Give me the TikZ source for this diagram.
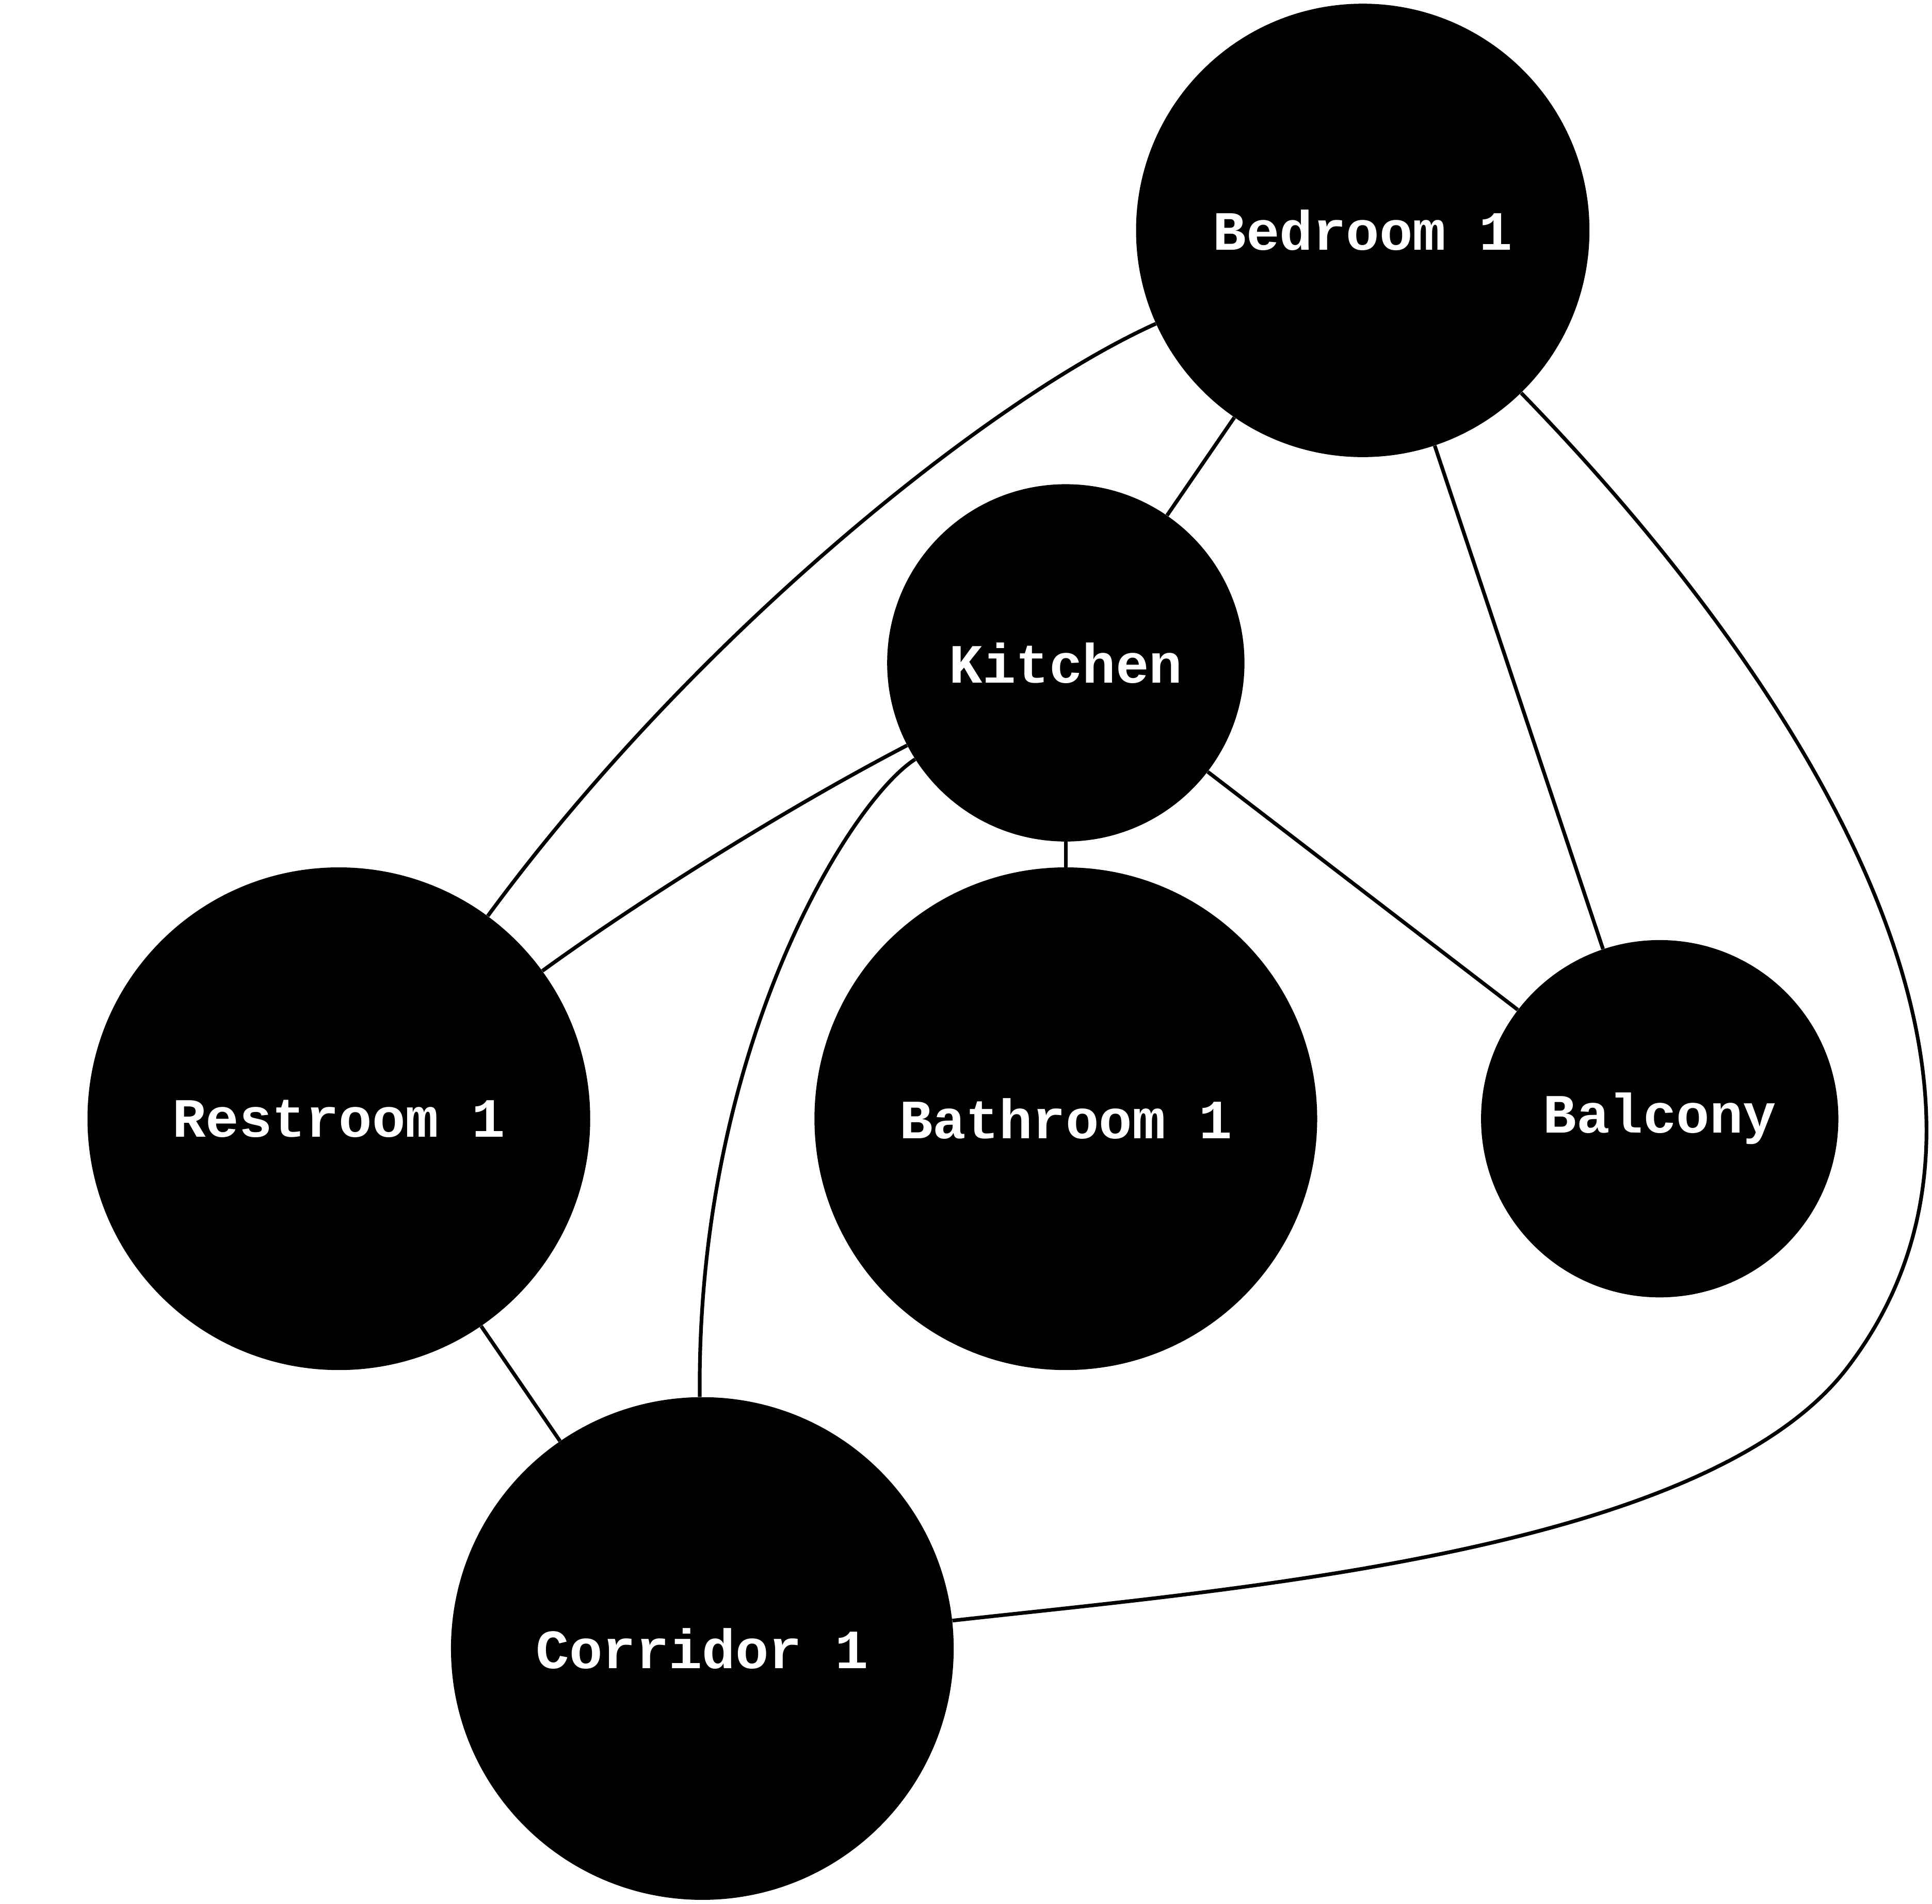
\documentclass[tikz,border=0pt]{standalone}
\usepackage{fontspec}
\setmonofont{Liberation Mono}
\begin{document}
\begin{tikzpicture}[x=1pt,y=1pt,
  room/.style={circle,fill=black,draw=none,inner sep=0pt,text=white,font=\ttfamily\bfseries\fontsize{45}{50}\selectfont},
  link/.style={line width=3pt}]
\useasboundingbox (0,0) rectangle (1568,-1545);
\node[room,minimum size=368pt] (B) at (1106,-187) {Bedroom 1};
\node[room,minimum size=290pt] (K) at (865,-538) {Kitchen};
\node[room,minimum size=408pt] (R) at (275,-908) {Restroom 1};
\node[room,minimum size=408pt] (T) at (865,-908) {Bathroom 1};
\node[room,minimum size=290pt] (Y) at (1347,-908) {Balcony};
\node[room,minimum size=408pt] (C) at (570,-1338) {Corridor 1};
\coordinate (bc) at (1497,-1113);
\draw[link] (B) -- (K);
\draw[link] (B) -- (Y);
\draw[link] (K) -- (Y);
\draw[link] (K) -- (T);
\draw[link] (R) -- (C);
\draw[link] (B) .. controls (800,-325) and (560,-520) .. (R);
\draw[link] (K) .. controls (640,-655) and (520,-730) .. (R);
\draw[link] (K) .. controls (690,-650) and (565,-850) .. (C);
\draw[link] (B) .. controls (1450,-540) and (1680,-880) .. (bc) .. controls (1380,-1260) and (1000,-1290) .. (C);
\end{tikzpicture}
\end{document}
